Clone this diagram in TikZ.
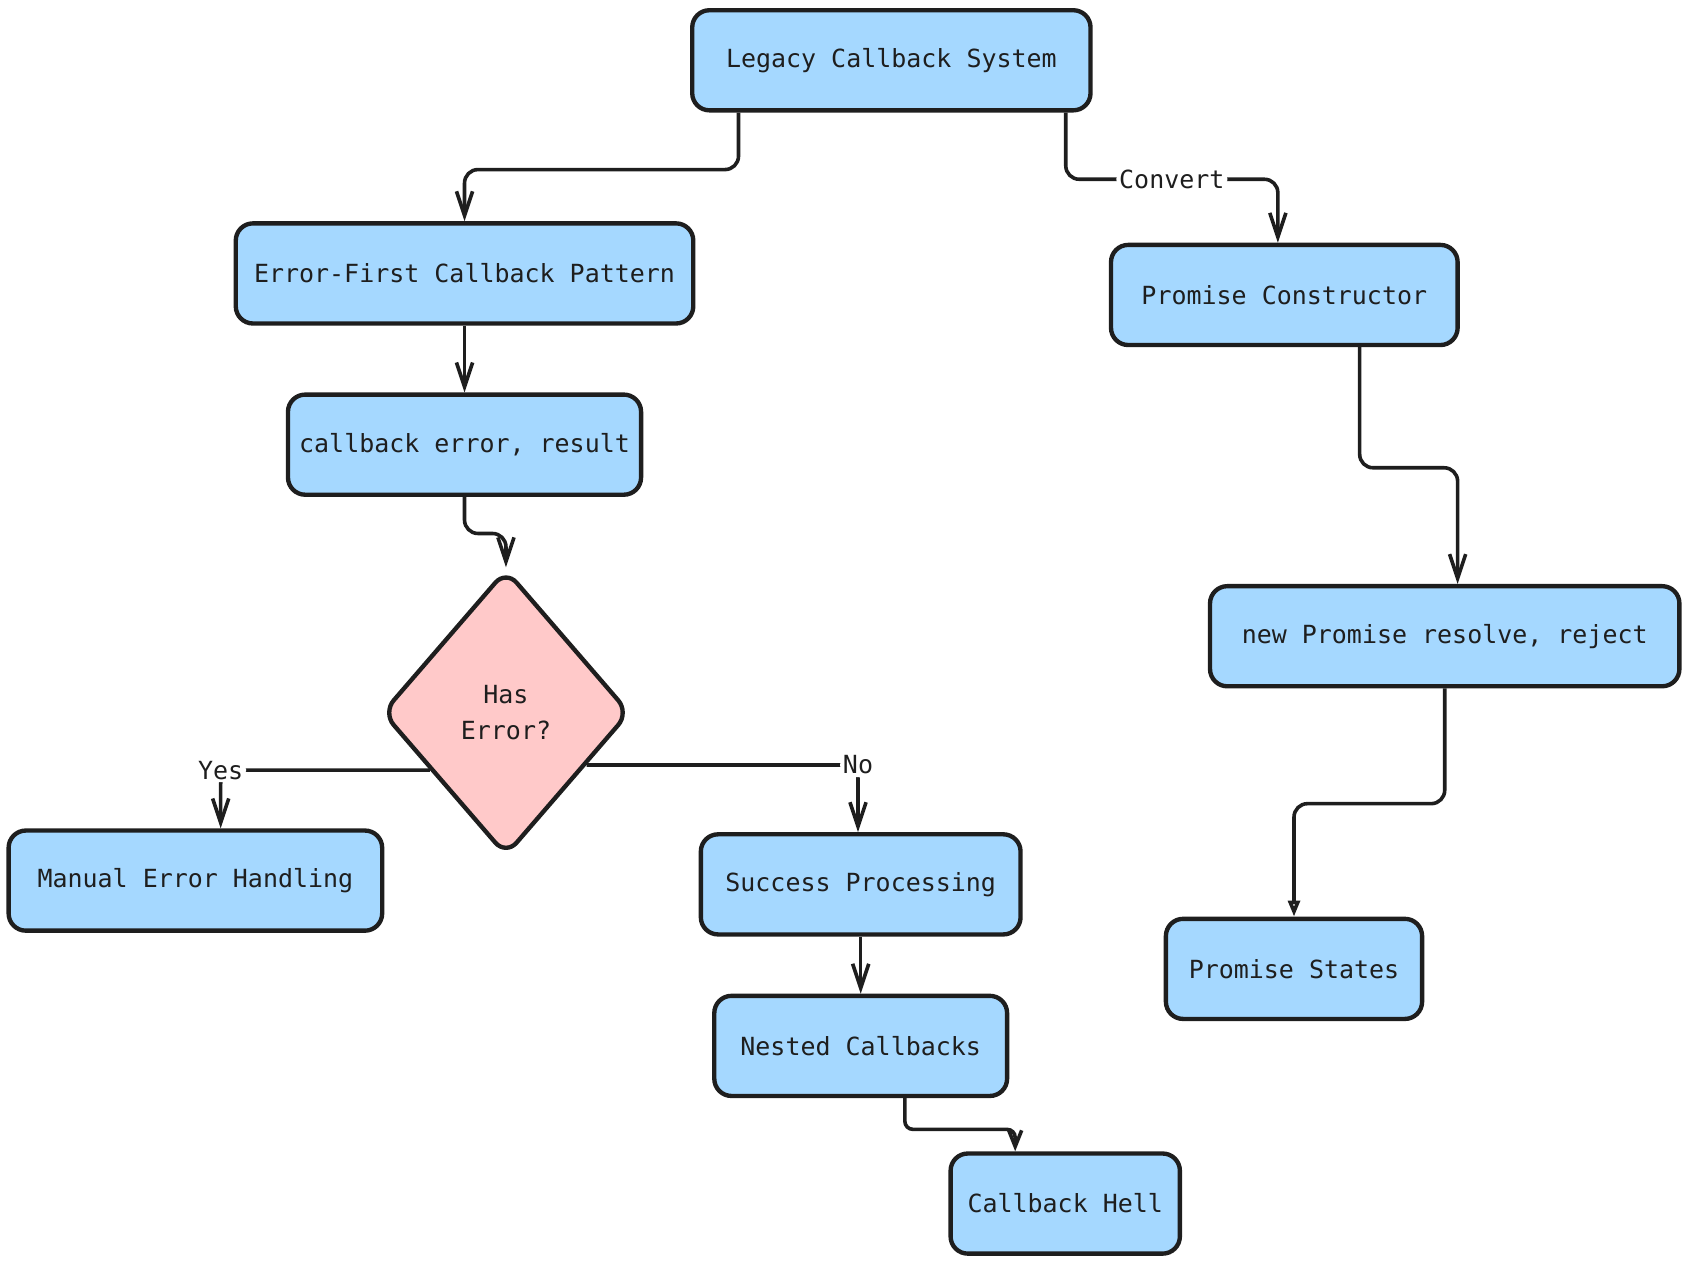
\documentclass[tikz,border=0pt]{standalone}
\usepackage{fontspec}
\setmonofont{DejaVu Sans Mono}
\usetikzlibrary{positioning}
\usetikzlibrary{shapes.geometric, arrows.meta, positioning}
\definecolor{boxblue}{HTML}{A5D8FF}
\definecolor{boxpink}{HTML}{FFC9C9}
\definecolor{ink}{HTML}{1E1E1E}
\newcommand{\boxfont}{\ttfamily\fontsize{13.2}{18.7}\selectfont}
\tikzstyle{box} = [draw=ink, fill=boxblue, line width=2.3pt, rounded corners=0.32cm, minimum height=1.86cm, font=\boxfont, text=ink]
\tikzstyle{decision} = [draw=ink, fill=boxpink, diamond, line width=2.3pt, rounded corners=0.3cm, minimum width=4.6cm, minimum height=5.32cm, inner sep=0pt, align=center, font=\boxfont, text=ink]
\tikzstyle{arrow} = [line width=1.9pt, draw=ink, rounded corners=0.25cm, -{Straight Barb[length=4.5mm, width=3mm]}]
\tikzstyle{lbl} = [fill=white, inner sep=1.5pt, font=\boxfont, text=ink]

\begin{document}
\begin{tikzpicture}
    \useasboundingbox (0,0) rectangle (31.36,-23.48);

    \node[box, minimum width=7.4cm] (legacy) at (16.56,-1.12) {Legacy Callback System};

    \node[box, minimum width=8.5cm] (errfirst) at (8.63,-5.08) {Error-First Callback Pattern};
    \node[box, minimum width=6.56cm, below=1.24cm of errfirst] (cb) {callback error, result};
    \node[decision] (haserr) at (9.4,-13.24) {Has\\Error?};

    \node[box, minimum width=6.94cm] (manual) at (3.63,-16.36) {Manual Error Handling};
    \node[box, minimum width=5.94cm] (success) at (15.99,-16.43) {Success Processing};
    \node[box, minimum width=5.44cm, below=1.06cm of success] (nested) {Nested Callbacks};
    \node[box, minimum width=4.26cm] (hell) at (19.79,-22.36) {Callback Hell};

    \node[box, minimum width=6.44cm] (pconst) at (23.86,-5.48) {Promise Constructor};
    \node[box, minimum width=8.72cm] (newp) at (26.84,-11.82) {new Promise resolve, reject};
    \node[box, minimum width=4.76cm] (pstates) at (24.04,-18.0) {Promise States};

    \draw[arrow] ([xshift=-2.84cm]legacy.south) -- ++(0,-1.06) -| (errfirst.north);
    \draw[arrow] ([xshift=3.24cm]legacy.south) -- ++(0,-1.24) -| node[lbl, pos=0.25] {Convert} ([xshift=-0.12cm]pconst.north);

    \draw[arrow] (errfirst) -- (cb);
    \draw[arrow] (cb.south) -- ++(0,-0.68) -| (haserr.north);
    \draw[arrow] (haserr.217) -| node[lbl, pos=0.5] {Yes} ([xshift=0.47cm]manual.north);
    \draw[arrow] (haserr.-33) -| node[lbl, pos=0.5] {No} ([xshift=-0.05cm]success.north);

    \draw[arrow] (success) -- (nested);
    \draw[arrow, rounded corners=0.15cm, -{Straight Barb[length=3mm, width=2.4mm]}] ([xshift=0.82cm]nested.south) -- ++(0,-0.58) -| ([xshift=-0.93cm]hell.north);

    \draw[arrow] ([xshift=1.4cm]pconst.south) -- ++(0,-2.24) -| ([xshift=0.24cm]newp.north);
    \draw[arrow, -{Triangle[open, length=3mm, width=2.2mm]}] (newp.south) -- ++(0,-2.14) -| (pstates.north);
\end{tikzpicture}
\end{document}
